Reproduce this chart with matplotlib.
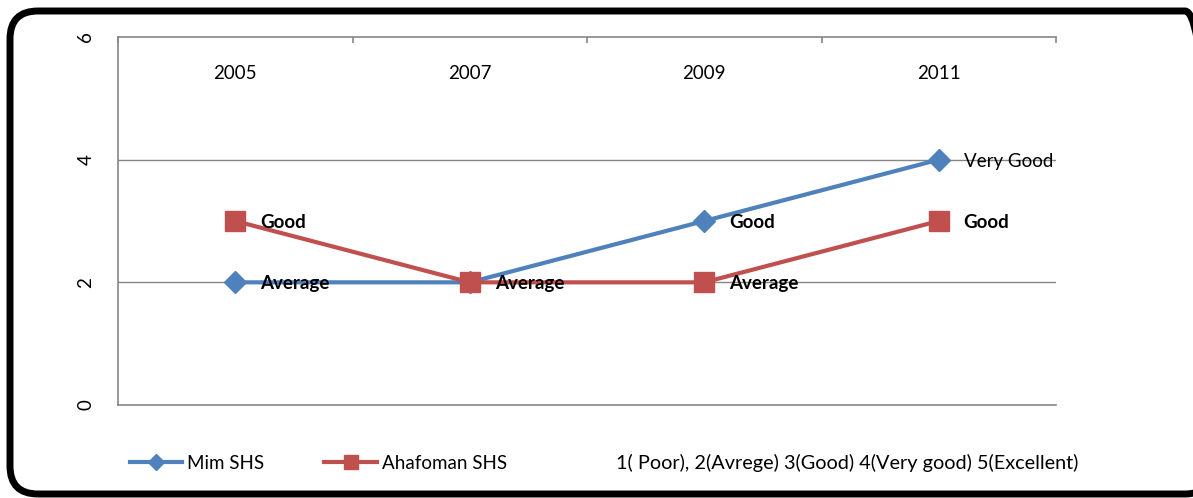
import numpy as np
import matplotlib.pyplot as plt
from matplotlib.patches import FancyBboxPatch
from matplotlib.transforms import IdentityTransform, blended_transform_factory

plt.rcParams['font.family'] = ['Lato', 'DejaVu Sans']

# data
years = ['2005', '2007', '2009', '2011']
mim = [2, 2, 3, 4]
ahafoman = [3, 2, 2, 3]
mim_labels = ['Average', '', 'Good', 'Very Good']
ahafoman_labels = ['Good', 'Average', 'Average', 'Good']
mim_bold = [True, False, True, False]
ahafoman_bold = [True, True, True, True]
yticks = [0, 2, 4, 6]
scale_note = '1( Poor), 2(Avrege) 3(Good) 4(Very good) 5(Excellent)'

blue = '#4F81BD'
red = '#C0504D'
grey = '#868686'

W, H = 1193, 498
fig = plt.figure(figsize=(W / 100, H / 100), dpi=100)
ax = fig.add_axes([118 / W, 1 - 405 / H, (1056 - 118) / W, (405 - 37) / H])

x = np.arange(len(years)) + 0.5
ax.set_xlim(0, len(years))
ax.set_ylim(0, 6)

# grid + spines
for v in yticks[1:-1]:
    ax.axhline(v, color=grey, lw=1, zorder=1)
for s in ['left', 'bottom', 'top']:
    ax.spines[s].set_color(grey)
    ax.spines[s].set_linewidth(1.2)
ax.spines['right'].set_visible(False)

ax.set_yticks(yticks)
ax.set_yticklabels([str(v) for v in yticks], rotation=90, va='center', fontsize=13.5)
ax.tick_params(axis='y', length=0, pad=17)

# category ticks on top, pointing down
ax.set_xticks(np.arange(len(years) + 1))
ax.set_xticklabels([])
ax.tick_params(axis='x', top=True, bottom=False, direction='in', length=4.5,
               color=grey, width=1.2)
trans = blended_transform_factory(ax.transData, ax.transAxes)
for xi, yr in zip(x, years):
    ax.text(xi, 0.9, yr, transform=trans, ha='center', va='center', fontsize=13.5)

ax.plot(x, mim, color=blue, lw=3, marker='D', ms=11, zorder=3, label='Mim SHS')
ax.plot(x, ahafoman, color=red, lw=3, marker='s', ms=14, zorder=4, label='Ahafoman SHS')

for xi, yi, lab, b in zip(x, mim, mim_labels, mim_bold):
    if lab:
        ax.annotate(lab, (xi, yi), xytext=(18, -1), textcoords='offset points',
                    va='center', ha='left', fontsize=13.5,
                    fontweight='bold' if b else 'normal', zorder=5)
for xi, yi, lab, b in zip(x, ahafoman, ahafoman_labels, ahafoman_bold):
    if lab:
        ax.annotate(lab, (xi, yi), xytext=(18, -1), textcoords='offset points',
                    va='center', ha='left', fontsize=13.5,
                    fontweight='bold' if b else 'normal', zorder=5)

fig.legend(loc='center left', bbox_to_anchor=(124 / W, 35 / H), ncol=2,
           frameon=False, fontsize=13.5, handlelength=2.8, handletextpad=0.27,
           columnspacing=3.2, borderaxespad=0, borderpad=0.3, markerscale=0.72)
fig.text(616 / W, 35 / H, scale_note, ha='left', va='center', fontsize=14.3)

# rounded outer frame (right edge just past the image)
frame = FancyBboxPatch((10, 4), 1203, 483, boxstyle='round,pad=0,rounding_size=28',
                       transform=IdentityTransform(), fill=False, ec='black', lw=5,
                       clip_on=False)
fig.patches.append(frame)

fig.savefig('out.png', dpi=100)
